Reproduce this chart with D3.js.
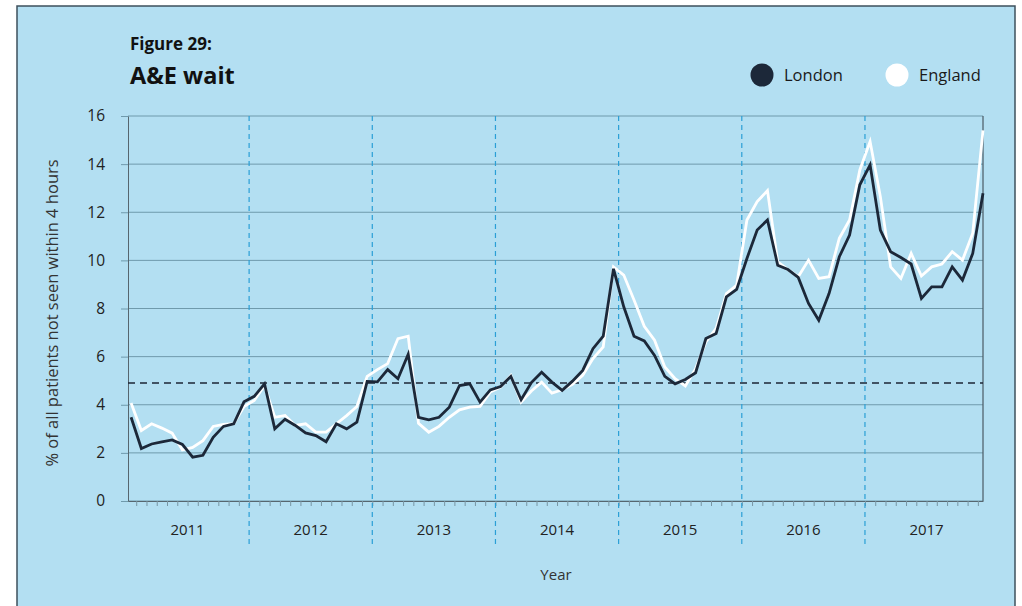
<!DOCTYPE html>
<html>
<head>
<meta charset="utf-8">
<script src="https://cdn.jsdelivr.net/npm/d3@7"></script>
<style>
  html, body { margin: 0; padding: 0; background: #fff; }
  svg text { font-family: "Open Sans", sans-serif; }
</style>
</head>
<body>
<svg id="chart" width="1022" height="606"></svg>
<script>
// monthly values, Jan 2011 .. Dec 2017
var london = [
  3.48, 2.18, 2.37, 2.46, 2.54, 2.35, 1.82, 1.90, 2.65, 3.10, 3.21, 4.12,
  4.35, 4.87, 3.00, 3.40, 3.14, 2.83, 2.72, 2.46, 3.21, 3.00, 3.28, 4.97,
  4.95, 5.46, 5.08, 6.10, 3.48, 3.37, 3.48, 3.90, 4.80, 4.87, 4.11, 4.62,
  4.76, 5.18, 4.21, 4.92, 5.35, 4.94, 4.60, 4.98, 5.43, 6.33, 6.85, 9.65,
  8.07, 6.85, 6.65, 6.05, 5.18, 4.87, 5.05, 5.33, 6.75, 6.96, 8.48, 8.79,
  10.08, 11.26, 11.68, 9.80, 9.62, 9.29, 8.21, 7.51, 8.62, 10.15, 11.05, 13.14,
  13.97, 11.26, 10.36, 10.12, 9.85, 8.42, 8.90, 8.90, 9.73, 9.18, 10.29, 12.79
];
var england = [
  4.07, 2.93, 3.21, 3.03, 2.82, 2.12, 2.23, 2.51, 3.10, 3.18, 3.21, 3.93,
  4.18, 4.80, 3.48, 3.55, 3.14, 3.21, 2.86, 2.86, 3.21, 3.55, 3.93, 5.18,
  5.46, 5.71, 6.75, 6.85, 3.23, 2.86, 3.10, 3.48, 3.79, 3.90, 3.93, 4.53,
  4.73, 5.22, 4.11, 4.57, 4.94, 4.48, 4.62, 4.85, 5.22, 5.92, 6.40, 9.73,
  9.39, 8.35, 7.26, 6.68, 5.57, 5.08, 4.78, 5.50, 6.61, 7.17, 8.62, 8.97,
  11.68, 12.44, 12.90, 9.94, 9.62, 9.32, 10.01, 9.25, 9.32, 10.92, 11.68, 13.76,
  14.94, 12.65, 9.73, 9.25, 10.29, 9.35, 9.73, 9.85, 10.36, 10.01, 11.13, 15.40
];
var years = [2011, 2012, 2013, 2014, 2015, 2016, 2017];
var yTicks = [0, 2, 4, 6, 8, 10, 12, 14, 16];
var target = 4.9;

var svg = d3.select("#chart");
var plotL = 128, plotR = 983, plotT = 116, plotB = 501;

var xScale = d3.scaleLinear().domain([-0.3, london.length - 1]).range([plotL, plotR]);
var yScale = d3.scaleLinear().domain([0, 16]).range([plotB, plotT]);

// panel
svg.append("rect")
  .attr("x", 17).attr("y", 6).attr("width", 998).attr("height", 620)
  .attr("fill", "#b3dff2")
  .attr("stroke", "#3e505c").attr("stroke-width", 1.5);

// titles
svg.append("text").attr("x", 130).attr("y", 50)
  .style("font-size", "17px").style("font-weight", 700).attr("fill", "#111")
  .text("Figure 29:");
svg.append("text").attr("x", 130).attr("y", 84)
  .style("font-size", "23.5px").style("font-weight", 700).attr("fill", "#111")
  .text("A&E wait");

// legend
var legend = [{ name: "London", color: "#1c2839", x: 762 }, { name: "England", color: "#ffffff", x: 897 }];
var lg = svg.selectAll(".lg").data(legend).enter().append("g").attr("class", "lg");
lg.append("circle").attr("cx", d => d.x).attr("cy", 75).attr("r", 11.5).attr("fill", d => d.color);
lg.append("text").attr("x", d => d.x + 22).attr("y", 81)
  .style("font-size", "16.5px").attr("fill", "#1a1a1a").text(d => d.name);

// gridlines
svg.append("g").selectAll("line").data(yTicks).enter().append("line")
  .attr("x1", plotL).attr("x2", plotR)
  .attr("y1", d => yScale(d)).attr("y2", d => yScale(d))
  .attr("stroke", "#6f9aac").attr("stroke-width", 1);

// y axis
var yAxis = svg.append("g").attr("transform", "translate(" + plotL + ",0)")
  .call(d3.axisLeft(yScale).tickValues(yTicks).tickSize(7).tickPadding(16).tickSizeOuter(0));
yAxis.select(".domain").attr("stroke", "#56666f");
yAxis.selectAll(".tick line").attr("stroke", "#6f9aac");
yAxis.selectAll("text").style("font-size", "15.5px").attr("fill", "#222").style("font-family", "Open Sans");

// bottom month ticks
var monthTicks = d3.range(0.5, london.length - 1, 1);
var xAxis = svg.append("g").attr("transform", "translate(0," + plotB + ")")
  .call(d3.axisBottom(xScale).tickValues(monthTicks).tickSize(5).tickSizeOuter(0).tickFormat(""));
xAxis.select(".domain").attr("stroke", "#56666f");
xAxis.selectAll(".tick line").attr("stroke", "#7896a4");

// right border
svg.append("line").attr("x1", plotR).attr("x2", plotR).attr("y1", plotT).attr("y2", plotB)
  .attr("stroke", "#4a5a64").attr("stroke-width", 1.2);

// year dividers
svg.append("g").selectAll("line").data(years.slice(1)).enter().append("line")
  .attr("x1", (d, i) => xScale((i + 1) * 12 - 0.5)).attr("x2", (d, i) => xScale((i + 1) * 12 - 0.5))
  .attr("y1", plotT).attr("y2", 546)
  .attr("stroke", "#2a9fd6").attr("stroke-width", 1.2).attr("stroke-dasharray", "5,4");

// year labels
svg.append("g").selectAll("text").data(years).enter().append("text")
  .attr("x", (d, i) => xScale(i * 12 + 5.5)).attr("y", 535)
  .attr("text-anchor", "middle").style("font-size", "15px").attr("fill", "#222")
  .text(d => d);

// target line
svg.append("line").attr("x1", plotL).attr("x2", plotR)
  .attr("y1", yScale(target)).attr("y2", yScale(target))
  .attr("stroke", "#1d2636").attr("stroke-width", 1.5).attr("stroke-dasharray", "7,5");

var line = d3.line().x((d, i) => xScale(i)).y(d => yScale(d));

svg.append("path").datum(england).attr("d", line)
  .attr("fill", "none").attr("stroke", "#ffffff").attr("stroke-width", 2.8).attr("stroke-linejoin", "miter");
svg.append("path").datum(london).attr("d", line)
  .attr("fill", "none").attr("stroke", "#1c2839").attr("stroke-width", 2.8).attr("stroke-linejoin", "miter");

// axis titles
svg.append("text").attr("x", 556).attr("y", 580).attr("text-anchor", "middle")
  .style("font-size", "15px").attr("fill", "#333").text("Year");
svg.append("text").attr("text-anchor", "middle")
  .attr("transform", "translate(58," + 313 + ")rotate(-90)")
  .style("font-size", "16.5px").attr("fill", "#333")
  .text("% of all patients not seen within 4 hours");
</script>
</body>
</html>
